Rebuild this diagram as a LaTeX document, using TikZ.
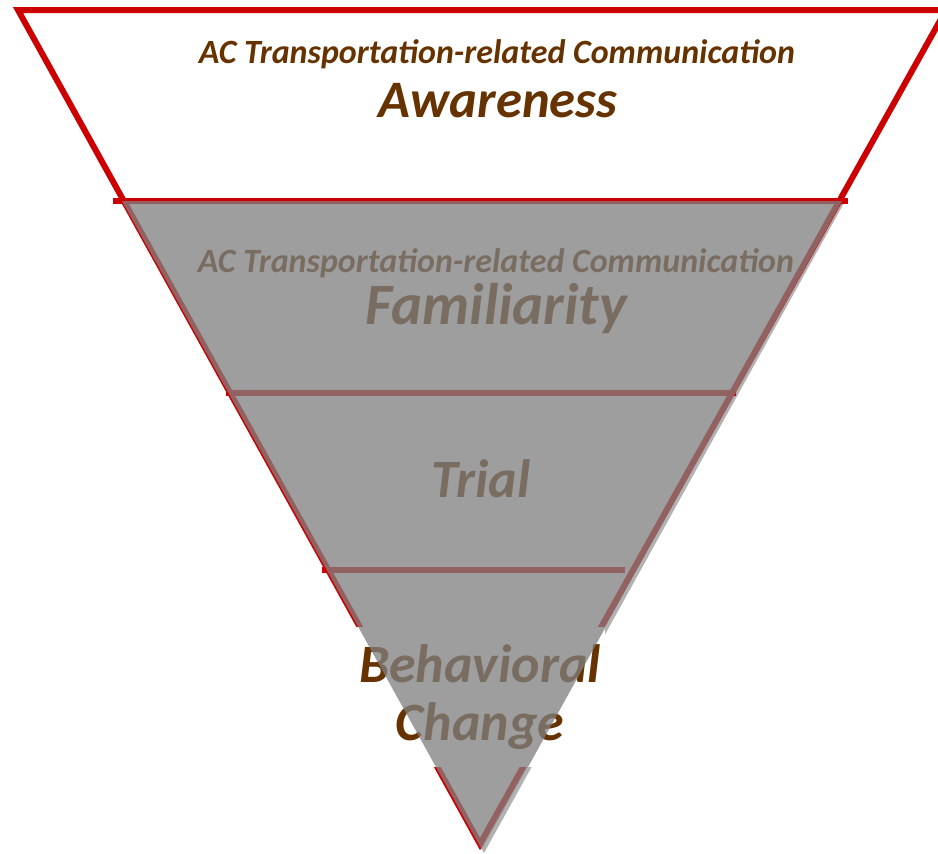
\documentclass[tikz,border=0pt]{standalone}
\usepackage{fontspec}
\setmainfont{Carlito}
\usepackage{tikz}
\usetikzlibrary{positioning}
\definecolor{funnelred}{HTML}{CC0000}
\definecolor{stagebrown}{HTML}{663300}

\begin{document}
\begin{tikzpicture}[x=0.75pt,y=-0.75pt,
  redline/.style={draw=funnelred,line width=4.5pt},
  subtitle/.style={anchor=base,text=stagebrown,inner sep=0pt,font=\fontsize{25.5}{30}\selectfont\bfseries\itshape},
  stagename/.style={anchor=base,text=stagebrown,inner sep=0pt,font=\fontsize{40.5}{43}\selectfont\bfseries\itshape}]
\useasboundingbox (0,0) rectangle (938,853);

% shadow and base of the lower funnel
\fill[black!30] (124,203) -- (844,203) -- (484,853) -- cycle;
\fill[white] (122,201) -- (842,201) -- (482,850) -- cycle;

% funnel outline and stage borders
\draw[redline] (18,10) -- (946,10) -- (480,844) -- cycle;
\draw[redline] (113,201) -- (848,201);
\draw[redline] (226,393) -- (736,393);
\draw[redline] (322,570) -- (625,570);

% stage labels
\node (aware1) [subtitle] at (497,63) {AC Transportation-related Communication};
\node (aware) [stagename,font=\fontsize{39.5}{43}\selectfont\bfseries\itshape] at (498,117) {Awareness};
\node (famil1) [subtitle] at (496,272) {AC Transportation-related Communication};
\node (famil) [stagename,font=\fontsize{44}{43}\selectfont\bfseries\itshape] at (496,324) {Familiarity};
\node (trial) [stagename] at (481,497) {Trial};
\node (change) [fill=white,align=center,text=stagebrown,inner sep=0pt,
  minimum width=250*0.75pt,minimum height=140*0.75pt,
  font=\fontsize{40.5}{43}\selectfont\bfseries\itshape] at (480,697) {Behavioral\\Change};

% gray overlay
\fill[black!50,fill opacity=0.76] (122,201) -- (842,201) -- (482,850) -- cycle;
\end{tikzpicture}
\end{document}
